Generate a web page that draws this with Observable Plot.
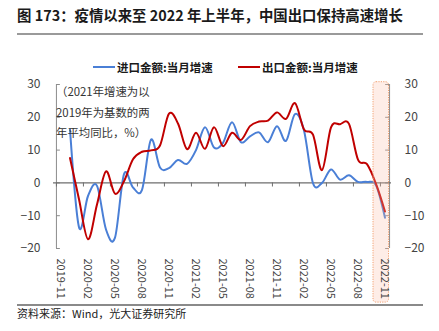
<!DOCTYPE html>
<html><head><meta charset="utf-8">
<script src="https://cdn.jsdelivr.net/npm/d3@7"></script>
<script src="https://cdn.jsdelivr.net/npm/@observablehq/plot@0.6"></script>
<style>
body{margin:0;background:#fff;font-family:"Noto Sans CJK SC","Noto Sans",sans-serif;}
#wrap{position:relative;width:439px;height:331px;overflow:hidden;}
#wrap > *{position:absolute;}
#title{left:17px;top:4px;font-size:14.4px;font-weight:bold;color:#1a1a1a;line-height:22px;white-space:nowrap;}
.hline{left:17px;width:406px;background:#9a9a9a;}
.leg{top:58px;font-size:11.5px;font-weight:bold;color:#1a1a1a;line-height:18px;white-space:nowrap;display:flex;align-items:center;}
.sw{display:inline-block;width:22px;height:2px;margin-right:2px;}
#note{left:56px;top:81px;font-size:11.4px;color:#333;line-height:20.5px;white-space:nowrap;}
#src{left:17px;top:305px;font-size:11px;color:#222;line-height:16px;white-space:nowrap;}
</style></head>
<body><div id="wrap">
<div id="chart" style="left:0;top:0"></div>
<div id="title"></div>
<div class="hline" style="top:33px;height:2px"></div>
<div class="leg" id="leg1" style="left:93px"></div>
<div class="leg" id="leg2" style="left:238px"></div>
<div id="note"></div>
<div class="hline" style="top:304px;height:1.5px;background:#8a8a8a"></div>
<div id="src"></div>
</div>
<script>
const titleText = "图 173：疫情以来至 2022 年上半年，中国出口保持高速增长";
const seriesNames = ["进口金额:当月增速", "出口金额:当月增速"];
const seriesColors = ["#4a7fd6", "#c00000"];
const noteLines = ["（2021年增速为以", "2019年为基数的两", "年平均同比，%）"];
const sourceText = "资料来源：Wind，光大证券研究所";

const months = ["2019-11","2019-12","2020-01","2020-02","2020-03","2020-04","2020-05","2020-06","2020-07","2020-08","2020-09","2020-10","2020-11","2020-12",
"2021-01","2021-02","2021-03","2021-04","2021-05","2021-06","2021-07","2021-08","2021-09","2021-10","2021-11","2021-12",
"2022-01","2022-02","2022-03","2022-04","2022-05","2022-06","2022-07","2022-08","2022-09","2022-10","2022-11"];
const dataMonths = ["2019-12","2020-01","2020-02","2020-03","2020-04","2020-05","2020-06","2020-07","2020-08","2020-09","2020-10","2020-11","2020-12",
"2021-01","2021-02","2021-03","2021-04","2021-05","2021-06","2021-07","2021-08","2021-09","2021-10","2021-11","2021-12",
"2022-01","2022-02","2022-03","2022-04","2022-05","2022-06","2022-07","2022-08","2022-09","2022-10","2022-11"];
const imports = [16.3,-13.5,-4.0,-0.9,-14.2,-16.7,2.7,-1.4,-2.1,13.2,4.7,4.5,7.0,
5.8,10.0,17.0,10.8,12.2,18.5,12.4,14.2,15.4,12.4,17.3,12.8,
21.0,16.0,-0.1,0.0,4.1,1.0,2.3,0.3,0.3,-0.7,-10.6];
const exports = [7.6,-5.0,-17.2,-6.6,3.5,-3.3,0.5,7.2,9.5,9.9,11.4,21.1,18.1,
10.3,15.3,10.4,17.0,11.2,15.3,13.1,17.3,18.7,19.0,21.5,19.5,
24.3,16.3,14.7,3.9,16.9,17.9,18.0,7.1,5.7,-0.3,-8.7];
const xTicks = ["2019-11","2020-02","2020-05","2020-08","2020-11","2021-02","2021-05","2021-08","2021-11","2022-02","2022-05","2022-08","2022-11"];
const yTicks = [-20,-10,0,10,20,30];
const highlightMonth = "2022-11";

document.getElementById("title").textContent = titleText;
document.getElementById("src").textContent = sourceText;
document.getElementById("note").innerHTML = noteLines.join("<br>");
["leg1","leg2"].forEach((id,k)=>{
  const el = document.getElementById(id);
  const s = document.createElement("span"); s.className="sw"; s.style.background=seriesColors[k];
  el.appendChild(s);
  el.appendChild(document.createTextNode(seriesNames[k]));
});

const W=439,H=331,ML=53,MR=48,MT=84,MB=83;
const bw=(W-ML-MR)/months.length;
const font='"Noto Sans CJK SC","Noto Sans",sans-serif';

const chart = Plot.plot({
  width:W,height:H,marginLeft:ML,marginRight:MR,marginTop:MT,marginBottom:MB,
  style:{fontFamily:font,fontSize:"12px",color:"#444",background:"transparent",overflow:"visible"},
  x:{type:"band",domain:months,padding:0,label:null},
  y:{domain:[-20,30],label:null},
  marks:[
    Plot.ruleX([months[0]],{x:d=>d,y1:-20,y2:30,dx:-bw/2,stroke:"#8c8c8c",strokeWidth:1}),
    Plot.ruleX([months[months.length-1]],{x:d=>d,y1:-20,y2:30,dx:bw/2,stroke:"#8c8c8c",strokeWidth:1}),
    Plot.tickY(yTicks,{y:d=>d,x:()=>months[0],insetRight:bw-4,stroke:"#8c8c8c"}),
    Plot.tickY(yTicks,{y:d=>d,x:()=>months[months.length-1],insetLeft:bw-4,stroke:"#8c8c8c"}),
    Plot.ruleY([0],{stroke:"#6e6e6e",strokeWidth:1.3}),
    Plot.ruleX(xTicks,{x:d=>d,y1:0,y2:-1.25,dx:-bw/2,stroke:"#6e6e6e",strokeWidth:1}),
    Plot.line(imports,{x:(d,i)=>dataMonths[i],y:d=>d,stroke:seriesColors[0],strokeWidth:2,curve:"cardinal",tension:0}),
    Plot.line(exports,{x:(d,i)=>dataMonths[i],y:d=>d,stroke:seriesColors[1],strokeWidth:2,curve:"cardinal",tension:0}),
    Plot.barY([highlightMonth],{x:d=>d,y1:-36.5,y2:30.7,insetLeft:-7,insetRight:0.5,rx:3,
      fill:"rgba(250,190,170,0.28)",stroke:"#f2a070",strokeWidth:1,strokeDasharray:"1.2,1.2"}),
    Plot.axisX({ticks:xTicks,anchor:"bottom",tickSize:0,tickPadding:10,tickRotate:90,fontSize:11,fill:"#444",label:null}),
    Plot.axisY({ticks:yTicks,anchor:"left",tickSize:0,tickPadding:13,fontSize:12,fill:"#444",label:null}),
    Plot.axisY({ticks:yTicks,anchor:"right",tickSize:0,tickPadding:13,fontSize:12,fill:"#444",label:null})
  ]
});
document.getElementById("chart").appendChild(chart);
</script>
</body></html>
